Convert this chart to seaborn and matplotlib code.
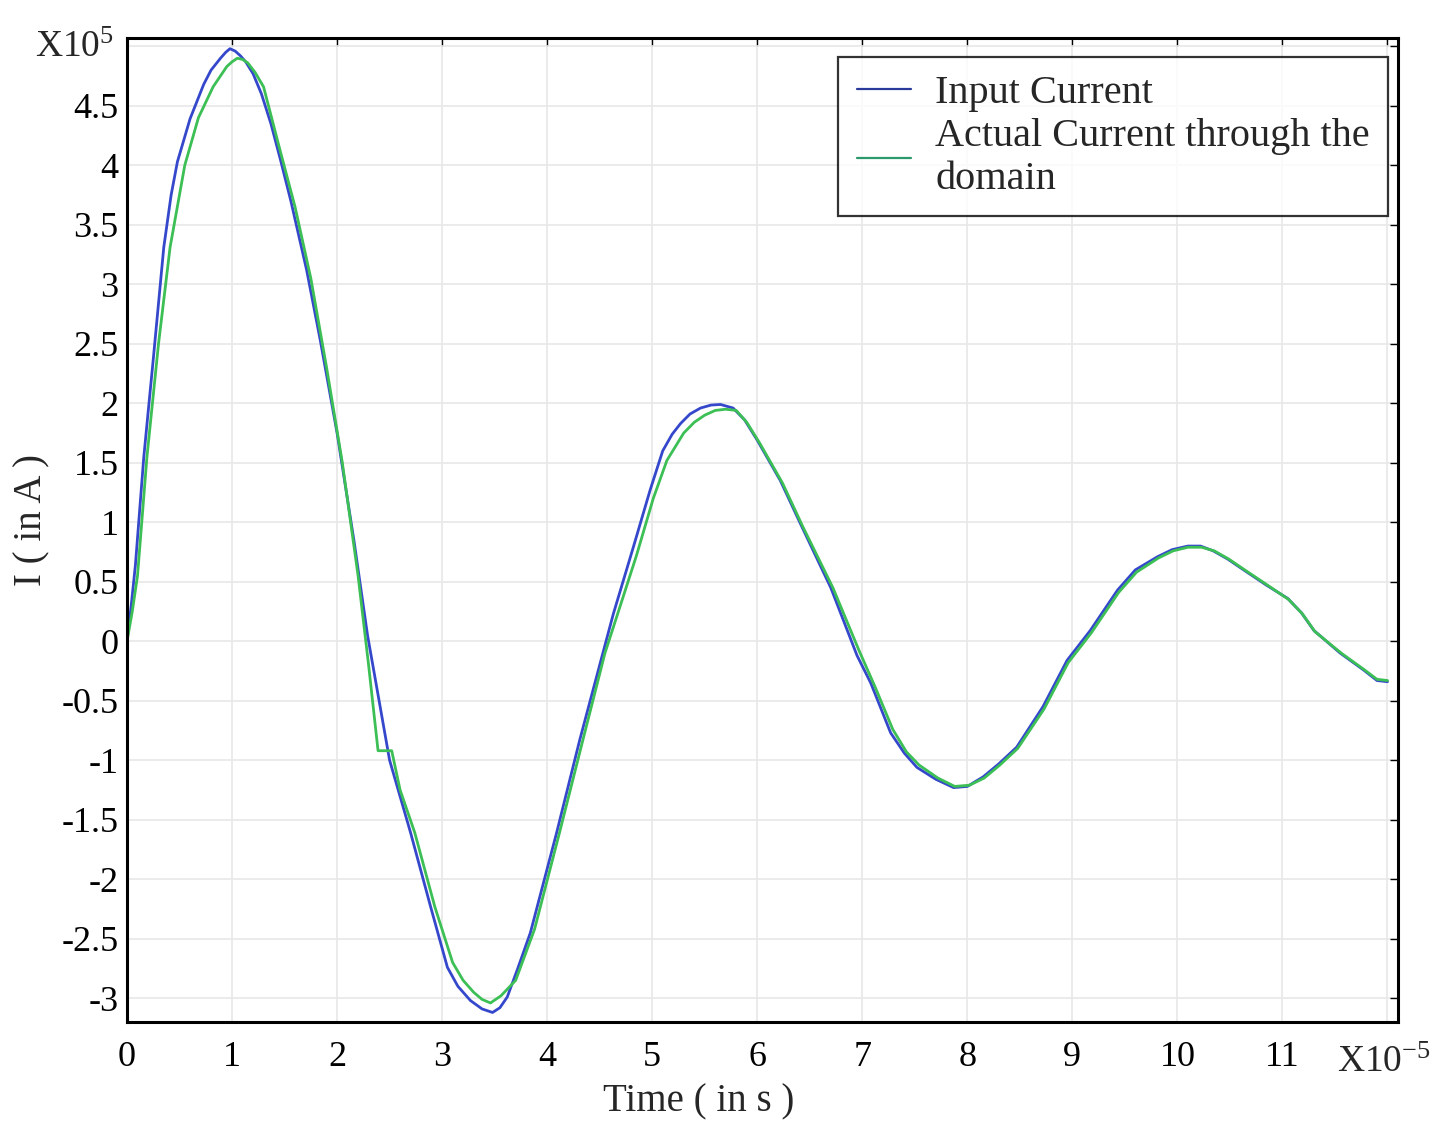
import numpy as np
import pandas as pd
import matplotlib
matplotlib.use("Agg")
import matplotlib.pyplot as plt
import seaborn as sns
from matplotlib.lines import Line2D

# ---- data (time in units of 1e-5 s, current in units of 1e5 A) ----
t_input = [0, 0.04, 0.08, 0.16, 0.25, 0.35, 0.42, 0.48, 0.6, 0.73, 0.8, 0.89, 0.94, 0.98, 1.03,
           1.08, 1.13, 1.2, 1.28, 1.37, 1.46, 1.56, 1.71, 1.84, 2.0, 2.16, 2.29, 2.41, 2.5, 2.7,
           2.89, 3.05, 3.15, 3.27, 3.38, 3.48, 3.55, 3.62, 3.72, 3.84, 4.09, 4.31, 4.5, 4.63,
           4.82, 4.98, 5.1, 5.19, 5.27, 5.36, 5.46, 5.56, 5.65, 5.77, 5.88, 6.0, 6.22, 6.41,
           6.7, 6.95, 7.08, 7.27, 7.4, 7.52, 7.7, 7.87, 8.0, 8.15, 8.3, 8.47, 8.72, 8.95, 9.17,
           9.43, 9.6, 9.81, 9.95, 10.1, 10.22, 10.34, 10.48, 10.63, 10.85, 11.05, 11.18, 11.3,
           11.55, 11.77, 11.9, 12.0]
i_input = [0, 0.3, 0.64, 1.55, 2.37, 3.31, 3.75, 4.03, 4.39, 4.68, 4.8, 4.9, 4.95, 4.98, 4.96,
           4.92, 4.87, 4.77, 4.6, 4.35, 4.05, 3.7, 3.12, 2.53, 1.75, 0.85, 0.05, -0.55, -1.0,
           -1.61, -2.23, -2.74, -2.9, -3.02, -3.09, -3.12, -3.08, -2.99, -2.75, -2.45, -1.61,
           -0.83, -0.2, 0.23, 0.79, 1.27, 1.6, 1.74, 1.83, 1.91, 1.96, 1.985, 1.99, 1.96, 1.86,
           1.69, 1.35, 0.99, 0.45, -0.12, -0.35, -0.77, -0.94, -1.06, -1.16, -1.23, -1.22,
           -1.14, -1.03, -0.89, -0.55, -0.16, 0.09, 0.43, 0.6, 0.71, 0.77, 0.8, 0.8, 0.76, 0.69,
           0.6, 0.47, 0.36, 0.24, 0.09, -0.1, -0.24, -0.33, -0.34]

t_actual = [0, 0.05, 0.1, 0.19, 0.3, 0.41, 0.55, 0.68, 0.82, 0.95, 1.0, 1.05, 1.1, 1.15, 1.22,
            1.3, 1.45, 1.6, 1.75, 1.9, 2.05, 2.2, 2.3, 2.39, 2.52, 2.6, 2.74, 2.93, 3.1, 3.2,
            3.3, 3.38, 3.46, 3.56, 3.7, 3.88, 4.12, 4.34, 4.55, 4.66, 4.85, 5.01, 5.14, 5.3, 5.4,
            5.5, 5.6, 5.7, 5.8, 5.9, 6.02, 6.24, 6.43, 6.72, 6.97, 7.12, 7.29, 7.42, 7.54, 7.72,
            7.88, 8.02, 8.16, 8.31, 8.48, 8.73, 8.96, 9.18, 9.44, 9.61, 9.82, 9.96, 10.1, 10.23,
            10.35, 10.49, 10.64, 10.86, 11.06, 11.19, 11.31, 11.56, 11.78, 11.9, 12.0]
i_actual = [0, 0.25, 0.55, 1.55, 2.5, 3.31, 4.0, 4.4, 4.66, 4.83, 4.87, 4.9, 4.89, 4.86, 4.78,
            4.66, 4.15, 3.65, 3.05, 2.3, 1.5, 0.55, -0.2, -0.92, -0.92, -1.25, -1.61, -2.23,
            -2.7, -2.85, -2.95, -3.01, -3.04, -2.98, -2.85, -2.42, -1.6, -0.83, -0.1, 0.2, 0.72,
            1.2, 1.52, 1.75, 1.84, 1.9, 1.94, 1.95, 1.94, 1.84, 1.67, 1.33, 0.97, 0.45, -0.08,
            -0.38, -0.74, -0.93, -1.04, -1.15, -1.22, -1.21, -1.15, -1.04, -0.9, -0.57, -0.18,
            0.07, 0.41, 0.58, 0.7, 0.76, 0.79, 0.79, 0.76, 0.69, 0.6, 0.47, 0.35, 0.23, 0.08,
            -0.1, -0.24, -0.32, -0.33]

series_names = ["Input Current", "Actual Current through the\ndomain"]
series_colors = ["#3548cc", "#3cbf55"]
legend_colors = ["#2a3a9a", "#2a9a6a"]

x_ticks = list(range(0, 13))
x_tick_labels = [str(v) for v in range(0, 12)] + [""]
y_ticks = [-3, -2.5, -2, -1.5, -1, -0.5, 0, 0.5, 1, 1.5, 2, 2.5, 3, 3.5, 4, 4.5, 5]
y_tick_labels = ["-3", "-2.5", "-2", "-1.5", "-1", "-0.5", "0", "0.5", "1", "1.5", "2",
                 "2.5", "3", "3.5", "4", "4.5", ""]

df = pd.concat([
    pd.DataFrame({"t": t_input, "I": i_input, "series": series_names[0]}),
    pd.DataFrame({"t": t_actual, "I": i_actual, "series": series_names[1]}),
], ignore_index=True)

sns.set_theme(style="white")
plt.rcParams["font.family"] = ["Liberation Serif", "DejaVu Serif"]
plt.rcParams["mathtext.fontset"] = "custom"
plt.rcParams["mathtext.rm"] = "Liberation Serif"
plt.rcParams["mathtext.it"] = "Liberation Serif"
plt.rcParams["mathtext.default"] = "rm"

fig = plt.figure(figsize=(14.45, 11.22), dpi=100)
ax = fig.add_axes([127 / 1445, 1 - 1022 / 1122, (1398 - 127) / 1445, (1022 - 38) / 1122])

sns.lineplot(data=df, x="t", y="I", hue="series", palette=dict(zip(series_names, series_colors)),
             sort=False, estimator=None, linewidth=2.0, ax=ax, legend=False)
for ln in ax.get_lines():
    ln.set_solid_joinstyle("round")

ax.set_xlim(0, 12.1)
ax.set_ylim(-3.2, 5.07)
ax.set_xticks(x_ticks)
ax.set_xticklabels(x_tick_labels)
ax.set_yticks(y_ticks)
ax.set_yticklabels(y_tick_labels)
ax.tick_params(direction="in", length=6, width=1, top=True, right=True, labelsize=26,
               colors="black")
ax.tick_params(axis="x", pad=14)
ax.tick_params(axis="y", pad=6)
ax.grid(True, color="#e8e8e8", linewidth=1.2)
for sp in ax.spines.values():
    sp.set_visible(True)
    sp.set_color("black")
    sp.set_linewidth(2.2)

ax.set_xlabel("Time ( in s )", fontsize=28)
ax.set_ylabel("I ( in A )", fontsize=28)
ax.xaxis.set_label_coords(0.45, -0.062)
ax.yaxis.set_label_coords(-0.06, 0.51)

handles = [Line2D([], [], color=c, linewidth=1.6) for c in legend_colors]
leg = ax.legend(handles, series_names, loc="upper right", bbox_to_anchor=(0.992, 0.981),
                fontsize=29, frameon=True, fancybox=False, edgecolor="black",
                handlelength=1.35, handletextpad=0.6, borderpad=0.45, labelspacing=0.15,
                borderaxespad=0)
leg.get_frame().set_linewidth(1.6)

fig.text(35 / 1445, 1 - 57 / 1122, "X10$^{5}$", fontsize=27, ha="left", va="baseline")
fig.text(1337 / 1445, 1 - 1072 / 1122, "X10$^{-5}$", fontsize=27, ha="left", va="baseline")

fig.savefig("out.png", dpi=100, facecolor="white")
